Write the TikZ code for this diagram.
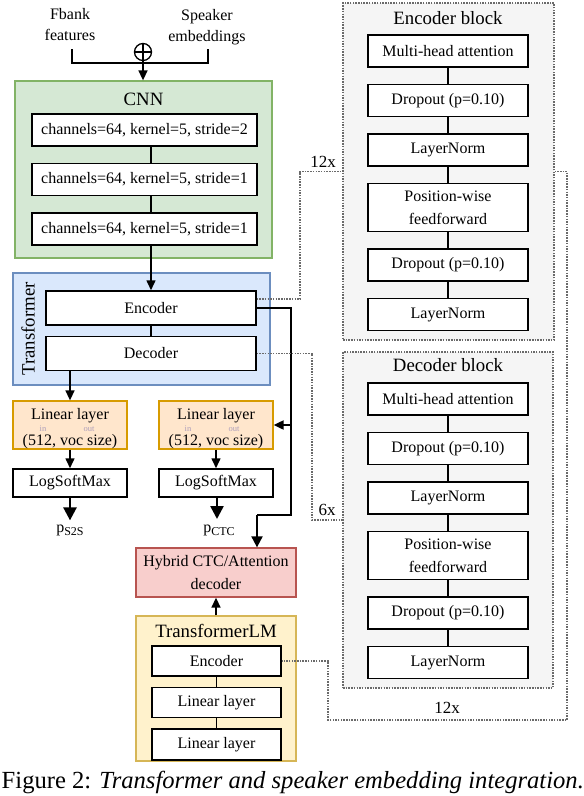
\documentclass[tikz,border=0pt]{standalone}
\usepackage{fontspec}
\setmainfont{Liberation Serif}
\usepackage{tikz}
\usetikzlibrary{arrows.meta, positioning}

\definecolor{cnnfill}{HTML}{D5E8D4}
\definecolor{cnnline}{HTML}{82B366}
\definecolor{trfill}{HTML}{DAE8FC}
\definecolor{trline}{HTML}{6C8EBF}
\definecolor{linfill}{HTML}{FFE6CC}
\definecolor{linline}{HTML}{D79B00}
\definecolor{hybfill}{HTML}{F8CECC}
\definecolor{hybline}{HTML}{B85450}
\definecolor{lmfill}{HTML}{FFF2CC}
\definecolor{lmline}{HTML}{D6B656}
\definecolor{blkfill}{HTML}{F5F5F5}
\definecolor{dotgray}{HTML}{6A6A6A}
\definecolor{inout}{HTML}{AE9FBB}

\begin{document}
\begin{tikzpicture}[x=1pt, y=-1pt, line width=1.5pt, >={Triangle[width=9pt, length=10pt]},
		every node/.style={font=\fontsize{16}{23}\selectfont},
		group/.style={draw, line width=1.3pt, inner sep=0pt},
		box/.style={draw, fill=white, line width=1.5pt, minimum width=#1, minimum height=32pt, inner sep=2pt, align=center},
		box/.default=160pt,
		title/.style={font=\fontsize{18.8}{22}\selectfont, inner sep=0pt},
		small/.style={font=\fontsize{8.5}{8.5}\selectfont, text=inout, inner sep=0pt},
		times/.style={font=\fontsize{17}{20}\selectfont, inner sep=0pt},
		dotline/.style={draw=dotgray, line width=1.6pt, dash pattern=on 1.5pt off 1.2pt},
		rail/.style={line width=2pt},
		big/.style={line width=2.5pt, -{Triangle[width=13pt, length=13pt]}},
		sumnode/.style={circle, draw, line width=1.3pt, minimum size=17pt, inner sep=0pt,
			path picture={\draw[line width=1.3pt] (path picture bounding box.north) -- (path picture bounding box.south)
				(path picture bounding box.west) -- (path picture bounding box.east);}}
	]
	\useasboundingbox (0,0) rectangle (584,796);

	\node [group, fill=cnnfill, draw=cnnline, minimum width=257pt, minimum height=177pt]	(cnn)	at (143.5,169.5)	{};
	\node [group, fill=trfill, draw=trline, minimum width=257pt, minimum height=112pt]	(tr)	at (141.5,329)		{};
	\node [group, fill=hybfill, draw=hybline, minimum width=160pt, minimum height=49pt, align=center]	(hybrid)	at (216,572.5)	{Hybrid CTC/Attention\\decoder};
	\node [group, fill=lmfill, draw=lmline, minimum width=160pt, minimum height=145pt]	(lm)	at (216,688.5)		{};
	\node [group, fill=blkfill, draw=dotgray, dash pattern=on 1.5pt off 1.2pt, minimum width=211pt, minimum height=337pt]	(encblk)	at (448.5,171.5)	{};
	\node [group, fill=blkfill, draw=dotgray, dash pattern=on 1.5pt off 1.2pt, minimum width=210pt, minimum height=336pt]	(decblk)	at (448,520)	{};

	\node [align=center, font=\fontsize{16}{21}\selectfont]	(fbank)	at (70,25)		{Fbank\\features};
	\node [align=center, font=\fontsize{16}{21}\selectfont]	(spk)	at (207,26.7)	{Speaker\\embeddings};
	\node [sumnode]	(sum)	at (143,52)	{};
	\coordinate (fb)	at (72,49);
	\coordinate (sp)	at (208,49);
	\coordinate (join)	at (143,63);

	\node [title]	(cnntitle)	at (143.5,99)	{CNN};
	\node [box=225pt]	(c1)	at (144.5,130)		{channels=64, kernel=5, stride=2};
	\node [box=225pt]	(c2)	[below=16pt of c1]	{channels=64, kernel=5, stride=1};
	\node [box=225pt]	(c3)	[below=16pt of c2]	{channels=64, kernel=5, stride=1};

	\node [title, rotate=90]	(trtitle)	at (28,329)	{Transformer};
	\node [box=210pt, minimum height=34pt]	(enc)	at (151,308)		{Encoder};
	\node [box=210pt, minimum height=34pt]	(dec)	[below=10pt of enc]	{Decoder};

	\node [group, fill=linfill, draw=linline, minimum width=114pt, minimum height=48pt]	(lin1)	at (70,425)	{};
	\node [group, fill=linfill, draw=linline, minimum width=114pt, minimum height=48pt]	(lin2)	at (216,425)	{};
	\node [anchor=base, inner sep=0pt]	(lin1a)	at ([yshift=6pt]lin1.center)	{Linear layer};
	\node [anchor=base, inner sep=0pt]	(lin1b)	at ([yshift=-20.5pt]lin1.center)	{(512, voc size)};
	\node [small, anchor=base]	(lin1in)	at ([xshift=-27pt, yshift=-6.5pt]lin1.center)	{in};
	\node [small, anchor=base]	(lin1out)	at ([xshift=19pt, yshift=-6.5pt]lin1.center)	{out};
	\node [anchor=base, inner sep=0pt]	(lin2a)	at ([yshift=6pt]lin2.center)	{Linear layer};
	\node [anchor=base, inner sep=0pt]	(lin2b)	at ([yshift=-20.5pt]lin2.center)	{(512, voc size)};
	\node [small, anchor=base]	(lin2in)	at ([xshift=-28pt, yshift=-6.5pt]lin2.center)	{in};
	\node [small, anchor=base]	(lin2out)	at ([xshift=18pt, yshift=-6.5pt]lin2.center)	{out};

	\node [box=114pt, minimum height=28pt]	(lsm1)	at (70,483)		{LogSoftMax};
	\node [box=114pt, minimum height=28pt]	(lsm2)	at (216,483)	{LogSoftMax};
	\node [anchor=base]	(ps2s)	at (70,532)		{p\raisebox{-3pt}{\fontsize{12}{12}\selectfont S2S}};
	\node [anchor=base]	(pctc)	at (219,532)	{p\raisebox{-3pt}{\fontsize{12}{12}\selectfont CTC}};

	\node [title]	(lmtitle)	at (216,631)	{TransformerLM};
	\node [box=129pt, minimum height=30pt]	(lmenc)	at (216.5,661)		{Encoder};
	\node [box=129pt, minimum height=30pt]	(lmlin1)	[below=10pt of lmenc]	{Linear layer};
	\node [box=129pt, minimum height=31pt]	(lmlin2)	[below=10pt of lmlin1]	{Linear layer};

	\node [title]	(enctitle)	at (448,18)	{Encoder block};
	\node [box]	(emha)		at (448,51)				{Multi-head attention};
	\node [box]	(edrop1)	[below=16pt of emha]	{Dropout (p=0.10)};
	\node [box]	(enorm1)	[below=16pt of edrop1]	{LayerNorm};
	\node [box, minimum height=48pt]	(effn)	[below=16pt of enorm1]	{Position-wise\\feedforward};
	\node [box]	(edrop2)	[below=16pt of effn]	{Dropout (p=0.10)};
	\node [box]	(enorm2)	[below=16pt of edrop2]	{LayerNorm};

	\node [title]	(dectitle)	at (448,365.5)	{Decoder block};
	\node [box]	(dmha)		at (448,399)			{Multi-head attention};
	\node [box]	(ddrop1)	[below=16pt of dmha]	{Dropout (p=0.10)};
	\node [box]	(dnorm1)	[below=16pt of ddrop1]	{LayerNorm};
	\node [box, minimum height=48pt]	(dffn)	[below=16pt of dnorm1]	{Position-wise\\feedforward};
	\node [box]	(ddrop2)	[below=16pt of dffn]	{Dropout (p=0.10)};
	\node [box]	(dnorm2)	[below=16pt of ddrop2]	{LayerNorm};

	\node [times]	(enctimes)	at (323,162)	{12x};
	\node [times]	(dectimes)	at (327,510)	{6x};
	\node [times]	(lmtimes)	at (447,708)	{12x};

	\node [anchor=base west, inner sep=0pt, font=\fontsize{24.6}{28}\selectfont]	(caption)	at (1,788)	{Figure 2: \textit{Transformer and speaker embedding integration.}};

	\draw (fb) |- (join) -| (sp);
	\draw [->] (sum.south) -- (sum.south |- cnn.north);
	\draw (c1.south -| enc) -- (c2.north -| enc);
	\draw (c2.south -| enc) -- (c3.north -| enc);
	\draw [->] (c3.south -| enc) -- (enc);
	\draw (enc) -- (dec);
	\draw [->] (dec.south -| lin1) -- (lin1);
	\draw [->] (lin1) -- (lsm1);
	\draw [->] (lin2) -- (lsm2);
	\draw [big] (lsm1) -- (ps2s);
	\draw [big] (lsm2.south -| 217,0) -- (217,519);

	\coordinate (railmid)	at (291,425);
	\coordinate (railbot)	at (291,515);
	\coordinate (hybin)		at (257,515);
	\draw [rail] (enc.east) -| (railbot) -- (hybin);
	\draw [rail, ->] (railmid) -- (lin2.east);
	\draw [rail, -{Triangle[width=11pt, length=11pt]}] (hybin) -- (hybin |- hybrid.north);
	\draw [->] (lm) -- (hybrid);
	\draw (lmenc) -- (lmlin1);
	\draw (lmlin1) -- (lmlin2);

	\foreach \a/\b in {emha/edrop1, edrop1/enorm1, enorm1/effn, effn/edrop2, edrop2/enorm2,
		dmha/ddrop1, ddrop1/dnorm1, dnorm1/dffn, dffn/ddrop2, ddrop2/dnorm2}
		\draw (\a) -- (\b);

	\draw [dotline] ([yshift=9pt]enc.east) -| (300,171.5) -- (encblk.west);
	\draw [dotline] (dec.east) -| (312,520) -- (decblk.west);
	\draw [dotline] (encblk.east) -| (567,720) -| (328,661) -- (lmenc.east);

\end{tikzpicture}
\end{document}
